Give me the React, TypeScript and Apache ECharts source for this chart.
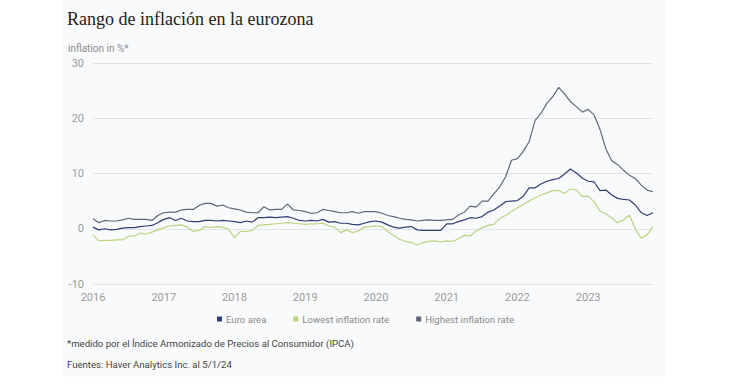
import React, { useEffect, useRef } from "react";
import * as echarts from "echarts";

const years = [2016, 2017, 2018, 2019, 2020, 2021, 2022, 2023];
const months = years.flatMap((y) =>
  Array.from({ length: 12 }, (_, i) => `${y}-${String(i + 1).padStart(2, "0")}`)
);

const euroArea = [
  0.3, -0.2, 0.0, -0.2, -0.1, 0.1, 0.2, 0.2, 0.4, 0.5, 0.6, 1.1,
  1.7, 2.0, 1.5, 1.9, 1.4, 1.3, 1.3, 1.5, 1.5, 1.4, 1.5, 1.4,
  1.3, 1.1, 1.4, 1.2, 2.0, 2.0, 2.1, 2.0, 2.1, 2.2, 1.9, 1.5,
  1.4, 1.5, 1.4, 1.7, 1.2, 1.3, 1.0, 1.0, 0.8, 0.7, 1.0, 1.3,
  1.4, 1.2, 0.7, 0.3, 0.1, 0.3, 0.4, -0.2, -0.3, -0.3, -0.3, -0.3,
  0.9, 0.9, 1.3, 1.6, 2.0, 1.9, 2.2, 3.0, 3.4, 4.1, 4.9, 5.0,
  5.1, 5.9, 7.4, 7.4, 8.1, 8.6, 8.9, 9.1, 9.9, 10.8, 10.1, 9.2,
  8.6, 8.5, 6.9, 7.0, 6.1, 5.5, 5.3, 5.2, 4.3, 2.9, 2.4, 2.9,
];

const lowestRate = [
  -1.1, -2.2, -2.1, -2.1, -2.0, -2.0, -1.4, -1.3, -0.8, -1.0, -0.6, -0.2,
  0.2, 0.5, 0.6, 0.7, 0.3, -0.5, -0.3, 0.4, 0.2, 0.4, 0.3, -0.1,
  -1.6, -0.5, -0.5, -0.3, 0.6, 0.7, 0.8, 0.9, 1.0, 1.1, 1.0, 0.9,
  0.8, 0.9, 0.9, 1.0, 0.5, 0.3, -0.7, -0.2, -0.7, -0.4, 0.3, 0.4,
  0.5, 0.4, -0.5, -1.2, -1.9, -2.3, -2.5, -2.9, -2.5, -2.3, -2.2, -2.4,
  -2.2, -2.3, -1.8, -1.2, -1.3, -0.4, 0.2, 0.6, 0.8, 1.9, 2.4, 3.1,
  3.8, 4.4, 5.0, 5.6, 6.1, 6.5, 6.9, 6.9, 6.4, 7.2, 7.0, 5.8,
  5.9, 4.9, 3.2, 2.7, 1.9, 1.1, 1.6, 2.5, -0.1, -1.7, -1.1, 0.4,
];

const highestRate = [
  1.8, 1.1, 1.5, 1.4, 1.4, 1.6, 1.9, 1.7, 1.7, 1.7, 1.5, 2.4,
  2.9, 3.0, 3.0, 3.4, 3.5, 3.5, 4.2, 4.6, 4.6, 4.1, 4.3, 3.8,
  3.6, 3.4, 3.0, 2.9, 2.9, 4.0, 3.4, 3.5, 3.5, 4.5, 3.4, 3.3,
  3.1, 2.8, 2.9, 3.5, 3.3, 3.1, 2.9, 2.9, 3.1, 2.8, 3.1, 3.1,
  3.1, 2.8, 2.4, 2.2, 1.9, 1.7, 1.6, 1.4, 1.5, 1.6, 1.5, 1.5,
  1.6, 1.7, 2.5, 3.0, 4.1, 3.9, 5.0, 5.0, 6.3, 7.6, 9.4, 12.4,
  12.7, 14.0, 15.8, 19.6, 20.9, 22.7, 23.9, 25.6, 24.4, 23.0, 22.1, 21.1,
  21.6, 20.6, 18.0, 14.5, 12.3, 11.6, 10.6, 9.7, 9.1, 7.9, 7.0, 6.7,
];

const seriesNames = ["Euro area", "Lowest inflation rate", "Highest inflation rate"];
const seriesColors = ["#2d3f75", "#bcd47f", "#5f6679"];
const yTicks = { min: -10, max: 30, interval: 10 };

const titleText = "Rango de inflación en la eurozona";
const unitText = "inflation in %*";
const noteText = "*medido por el Índice Armonizado de Precios al Consumidor (IPCA)";
const sourceText = "Fuentes: Haver Analytics Inc. al 5/1/24";

export default function App() {
  const ref = useRef<HTMLDivElement>(null);
  useEffect(() => {
    if (!ref.current) return;
    const chart = echarts.init(ref.current, undefined, { renderer: "svg" });
    const sans = "Roboto, 'Noto Sans', sans-serif";
    const dataSets = [euroArea, lowestRate, highestRate];
    chart.setOption({
      animation: false,
      backgroundColor: "#ffffff",
      title: {
        text: titleText,
        left: 62,
        top: 5,
        textStyle: {
          fontFamily: "'Liberation Serif', serif",
          fontSize: 18,
          fontWeight: "normal",
          color: "#222222",
        },
      },
      graphic: [
        {
          type: "rect",
          z: -10,
          silent: true,
          shape: { x: 63, y: 0, width: 603, height: 377 },
          style: { fill: "#f9fafc" },
        },
        {
          type: "text",
          left: 68,
          top: 43,
          style: { text: unitText, fontFamily: sans, fontSize: 10, fill: "#8a8a8a" },
        },
        {
          type: "text",
          left: 67,
          top: 338,
          style: { text: noteText, fontFamily: sans, fontSize: 9.6, fill: "#444444" },
        },
        {
          type: "text",
          left: 67,
          top: 359,
          style: { text: sourceText, fontFamily: sans, fontSize: 9.6, fill: "#444444" },
        },
      ],
      legend: {
        left: 212,
        top: 309,
        icon: "rect",
        itemWidth: 5,
        itemHeight: 5,
        itemGap: 27,
        textStyle: { fontFamily: sans, fontSize: 9.6, color: "#8a8a8a", padding: [0, 0, 0, -1] },
        data: seriesNames,
      },
      grid: { left: 93, right: 82, top: 63, bottom: 99, containLabel: false },
      xAxis: {
        type: "category",
        data: months,
        boundaryGap: false,
        axisLine: { show: false },
        axisTick: { show: false },
        splitLine: { show: false },
        axisLabel: {
          interval: (idx: number) => idx % 12 === 0,
          formatter: (v: string) => v.slice(0, 4),
          color: "#9a9a9a",
          fontFamily: sans,
          fontSize: 11,
          margin: 8,
        },
      },
      yAxis: {
        type: "value",
        min: yTicks.min,
        max: yTicks.max,
        interval: yTicks.interval,
        axisLine: { show: false },
        axisTick: { show: false },
        splitLine: { lineStyle: { color: "#e3e4e8", width: 1 } },
        axisLabel: { color: "#9a9a9a", fontFamily: sans, fontSize: 11, margin: 9 },
      },
      series: seriesNames.map((name, i) => ({
        name,
        type: "line",
        data: dataSets[i],
        showSymbol: false,
        symbol: "none",
        color: seriesColors[i],
        lineStyle: { width: 1.2, color: seriesColors[i] },
        z: i === 0 ? 5 : 3,
      })),
    });
    return () => chart.dispose();
  }, []);
  return (
    <div
      ref={ref}
      style={{ position: "fixed", left: 0, top: 0, width: 735, height: 383 }}
    />
  );
}
